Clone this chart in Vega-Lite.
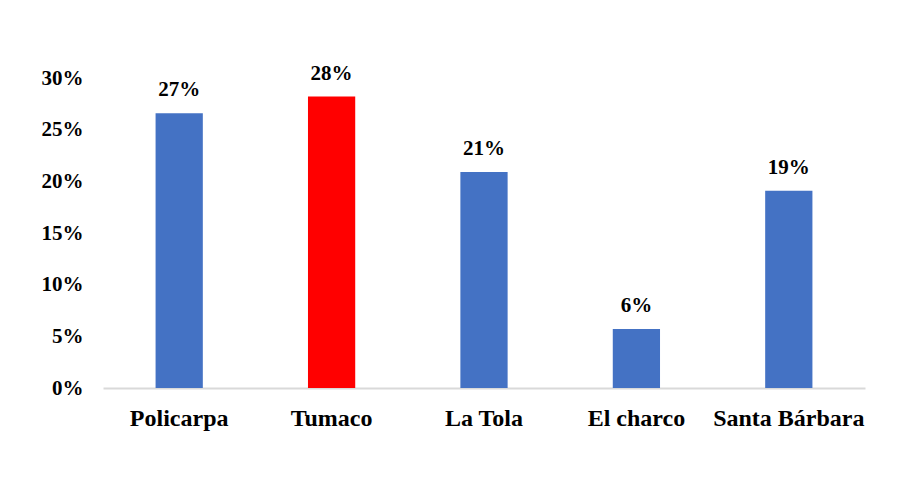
{
  "$schema": "https://vega.github.io/schema/vega-lite/v6.json",
  "autosize": "none",
  "width": 762,
  "height": 310,
  "padding": {"left": 103, "top": 78, "right": 35, "bottom": 105},
  "background": "white",
  "config": {"view": {"stroke": null}, "font": "Liberation Serif"},
  "data": {"values": [
    {"lugar": "Policarpa", "valor": 0.266, "etiqueta": "27%", "destacado": "no"},
    {"lugar": "Tumaco", "valor": 0.282, "etiqueta": "28%", "destacado": "si"},
    {"lugar": "La Tola", "valor": 0.209, "etiqueta": "21%", "destacado": "no"},
    {"lugar": "El charco", "valor": 0.057, "etiqueta": "6%", "destacado": "no"},
    {"lugar": "Santa Bárbara", "valor": 0.191, "etiqueta": "19%", "destacado": "no"}
  ]},
  "encoding": {
    "x": {"field": "lugar", "type": "nominal", "sort": null,
      "scale": {"paddingInner": 0.69, "paddingOuter": 0.345},
      "axis": {"title": null, "labelAngle": 0, "labelFont": "Liberation Serif", "labelFontSize": 24, "labelFontWeight": "bold", "labelColor": "black", "ticks": false, "domainColor": "#d9d9d9", "domainWidth": 2, "labelPadding": 18}},
    "y": {"field": "valor", "type": "quantitative",
      "scale": {"domain": [0, 0.3]},
      "axis": {"title": null, "format": ".0%", "values": [0, 0.05, 0.1, 0.15, 0.2, 0.25, 0.3], "grid": false, "domain": false, "ticks": false, "labelFont": "Liberation Serif", "labelFontSize": 21, "labelFontWeight": "bold", "labelColor": "black", "labelPadding": 20}}
  },
  "layer": [
    {"mark": {"type": "bar"},
     "encoding": {"color": {"field": "destacado", "type": "nominal", "scale": {"domain": ["no", "si"], "range": ["#4472C4", "#FF0000"]}, "legend": null}}},
    {"mark": {"type": "text", "dy": -23, "fontSize": 21, "fontWeight": "bold", "font": "Liberation Serif", "color": "black"},
     "encoding": {"text": {"field": "etiqueta"}}}
  ]
}
